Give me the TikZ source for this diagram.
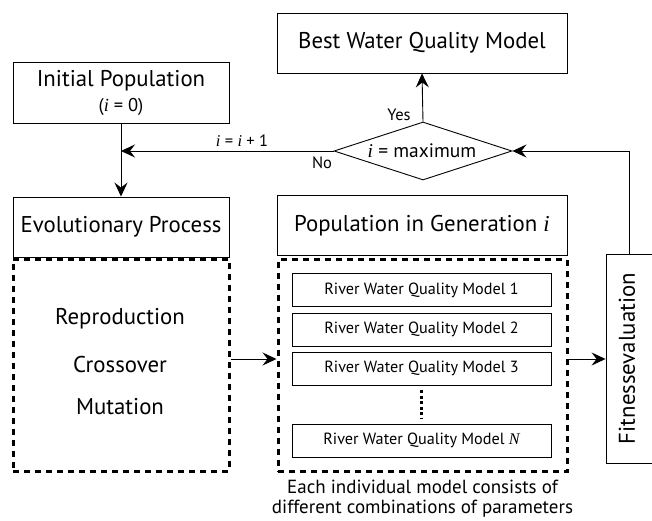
\documentclass[tikz,border=0pt]{standalone}
\usepackage{fontspec}
\setmainfont{PT Sans}
\newfontfamily\serf{Liberation Serif}
\usetikzlibrary{arrows.meta,shapes.geometric}
\newcommand{\vi}{{\serf\itshape i}}
\tikzset{
  box/.style={draw,line width=0.9pt,inner sep=0pt,align=center},
  dotbox/.style={draw,line width=3pt,dash pattern=on 6pt off 5pt,inner sep=0pt},
  arr/.style={line width=0.9pt,-{Stealth[length=14pt,width=13pt,inset=5pt]}},
  big/.style={font=\fontsize{22.8}{26}\selectfont},
  lbl/.style={font=\fontsize{16.5}{19}\selectfont}
}
\begin{document}
\begin{tikzpicture}[x=1pt,y=-1pt]
\useasboundingbox (0,0) rectangle (652,521);
% top boxes
\node[box,big,minimum width=290pt,minimum height=60pt] (best) at (422,43) {Best Water Quality Model};
\node[box,minimum width=216pt,minimum height=61pt] (init) at (121,92.5) {};
\node[big] (initt) at (121,81) {Initial Population};
\node[font=\fontsize{18.5}{21}\selectfont] (initi) at (121,107) {(\vi\ = 0)};
\node[draw,diamond,aspect=3.05,line width=0.9pt,minimum width=178pt,minimum height=58pt,inner sep=0pt] (dia) at (423,151) {};
\node[font=\fontsize{19.5}{22}\selectfont] (diat) at (422,151) {\vi\ = maximum};
% evolutionary
\node[box,big,minimum width=216pt,minimum height=60pt] (evo) at (121,227) {Evolutionary Process};
\node[dotbox,minimum width=216pt,minimum height=212pt] (evod) at (121,365) {};
\node[big] (rep) at (120,319) {Reproduction};
\node[big] (cro) at (120,365) {Crossover};
\node[big] (mut) at (120,407) {Mutation};
% population
\node[box,big,minimum width=290pt,minimum height=60pt] (pop) at (422,225.5) {Population in Generation \vi};
\node[dotbox,minimum width=289pt,minimum height=212pt] (popd) at (422.5,365.5) {};
\tikzset{mbox/.style={box,minimum width=259pt,minimum height=33pt,font=\fontsize{16.2}{19}\selectfont}}
\node[mbox] (m1) at (421.5,290) {River Water Quality Model 1};
\node[mbox] (m2) at (421.5,329.5) {River Water Quality Model 2};
\node[mbox] (m3) at (421.5,368.5) {River Water Quality Model 3};
\node[mbox] (mN) at (421.5,440.5) {River Water Quality Model {\serf\itshape N}};
\coordinate (d1) at (421.5,390);
\coordinate (d2) at (421.5,418);
\draw[line width=3pt,dash pattern=on 3pt off 2.5pt] (d1) -- (d2);
\node[font=\fontsize{19}{20}\selectfont,align=center] (cap) at (422.5,499) {Each individual model consists of\\different combinations of parameters};
% fitness
\node[box,minimum width=46pt,minimum height=209pt] (fit) at (629,358.5) {};
\node[rotate=90,big] (fitt) at (627,358.5) {Fitnessevaluation};
% connectors
\draw[arr] (evod.east |- 0,359) -- (popd.west |- 0,359);
\draw[arr] (popd.east |- 0,359) -- (fit.west |- 0,359);
\coordinate (fr) at (629.5,254);
\coordinate (fc) at (629.5,151);
\draw[arr] (fr) -- (fc) -- (dia.east);
\coordinate (jn) at (121,151);
\draw[arr] (dia.west) -- (jn);
\draw[arr] (init.south) -- (evo.north);
\draw[arr] (dia.north) -- (best.south);
\node[lbl] (yes) at (399,115) {Yes};
\node[lbl] (no) at (322,163) {No};
\node[lbl] (inc) at (242,141) {\vi\ = \vi\ + 1};
\end{tikzpicture}
\end{document}
